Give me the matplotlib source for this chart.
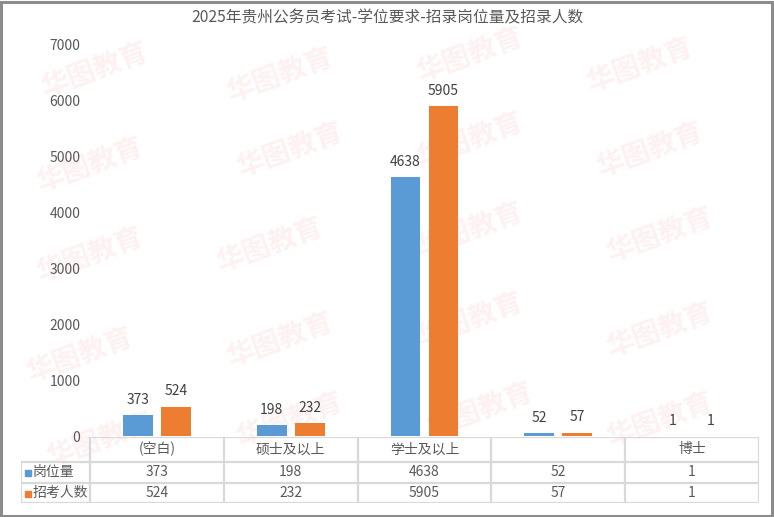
import matplotlib.pyplot as plt
from matplotlib.patches import Rectangle
import numpy as np

plt.rcParams['font.family'] = ['Noto Sans CJK SC', 'DejaVu Sans']

title = '2025年贵州公务员考试-学位要求-招录岗位量及招录人数'
categories = ['(空白)', '硕士及以上', '学士及以上', '', '博士']
series_names = ['岗位量', '招考人数']
posts = [373, 198, 4638, 52, 1]
applicants = [524, 232, 5905, 57, 1]
yticks = [0, 1000, 2000, 3000, 4000, 5000, 6000, 7000]

colors = ['#5B9BD5', '#ED7D31']
txt = '#595959'
grid_c = '#d9d9d9'

W, H = 774, 517
fig = plt.figure(figsize=(W / 100, H / 100), dpi=100)

def fx(px):
    return px / W

def fy(py):
    return 1 - py / H

# faint watermarks in a background layer
bg = fig.add_axes([0, 0, 1, 1], zorder=-10)
bg.axis('off')
bg.set_xlim(0, W)
bg.set_ylim(H, 0)
marks = [(95, 70), (280, 75), (470, 55), (640, 65),
         (90, 165), (290, 150), (470, 140), (650, 150),
         (90, 255), (270, 245), (470, 230), (660, 235),
         (80, 355), (280, 340), (470, 320), (660, 330),
         (100, 440), (290, 420), (480, 410), (660, 420)]
for mx, my in marks:
    bg.text(mx, my, '华图教育', fontsize=20, color='#fdf1f1',
            rotation=20, ha='center', va='center', fontweight='bold')

# main plot area
x0, x1 = 90, 759
ax = fig.add_axes([fx(x0), fy(436), fx(x1 - x0), (436 - 45) / H])
ax.patch.set_alpha(0)
x = np.arange(len(categories))
bw = 0.224
off = 0.142
for vals, c, d in [(posts, colors[0], -off), (applicants, colors[1], off)]:
    bars = ax.bar(x + d, vals, width=bw, color=c, zorder=2)
    for b, v in zip(bars, vals):
        ax.annotate(str(v), (b.get_x() + b.get_width() / 2, v), xytext=(0, 6),
                    textcoords='offset points', ha='center', va='bottom',
                    fontsize=10, color='#404040')
ax.set_xlim(-0.5, len(categories) - 0.5)
ax.set_ylim(0, 7000)
ax.set_yticks(yticks)
ax.set_xticks([])
ax.tick_params(axis='y', length=0, pad=7, labelsize=10, labelcolor=txt)
for s in ax.spines.values():
    s.set_visible(False)

# data table
tl = 20.7
tax = fig.add_axes([fx(tl), fy(503), fx(x1 - tl), 66 / H])
tax.axis('off')
lw_units = (x0 - tl) / (x1 - x0) * len(categories)
left = -0.5 - lw_units
tax.set_xlim(left, len(categories) - 0.5)
tax.set_ylim(66, 0)
edges = [0, 24.5, 45.5, 66]
lk = dict(color=grid_c, lw=1.6, zorder=1)
# horizontal lines
tax.plot([-0.5, len(categories) - 0.5], [edges[0]] * 2, **lk)
for e in edges[1:]:
    tax.plot([left, len(categories) - 0.5], [e, e], **lk)
# vertical lines
tax.plot([left, left], [edges[1], edges[3]], **lk)
for i in range(len(categories) + 1):
    tax.plot([i - 0.5, i - 0.5], [edges[0], edges[3]], **lk)

for i, cat in enumerate(categories):
    tax.text(i, (edges[0] + edges[1]) / 2, cat, ha='center', va='center',
             fontsize=10, color=txt)
rows = [posts, applicants]
for r, (name, vals, c) in enumerate(zip(series_names, rows, colors)):
    yc = (edges[r + 1] + edges[r + 2]) / 2
    for i, v in enumerate(vals):
        tax.text(i, yc, str(v), ha='center', va='center', fontsize=10, color=txt)
    fig.patches.append(Rectangle((fx(25), fy(462 + 21 * r + 14)), fx(6), 6 / H,
                                 transform=fig.transFigure, color=c, zorder=3))
    tax.text(left + 12 / (x1 - x0) * len(categories), yc, name, ha='left',
             va='center', fontsize=10, color=txt)

fig.text(0.5, fy(18), title, ha='center', va='center', fontsize=11.3, color=txt)

# outer frame
fig.patches.append(Rectangle((0.001, 0.002), 0.997, 0.995, transform=fig.transFigure,
                             fill=False, edgecolor='#8c8c8c', lw=2.2, zorder=5))

fig.savefig('out.png', dpi=100)
